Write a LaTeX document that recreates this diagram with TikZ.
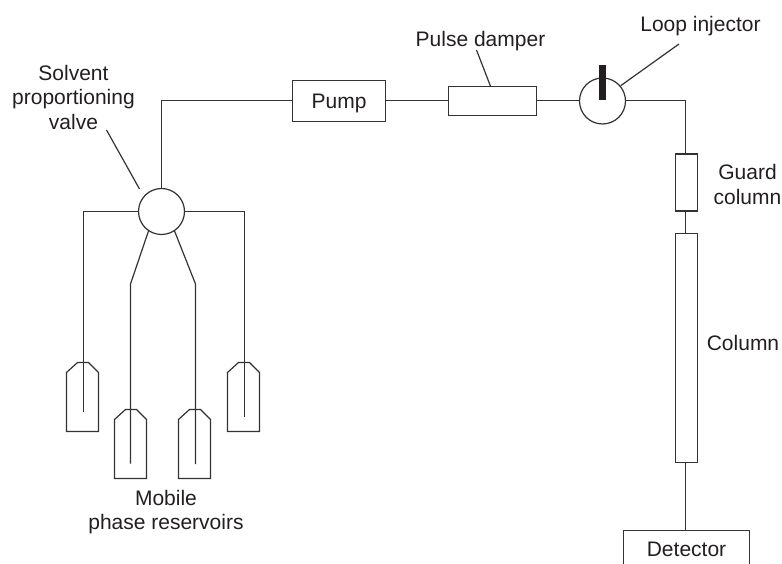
\documentclass[tikz,border=0pt]{standalone}
\usepackage{fontspec}
\setmainfont{Liberation Sans}
\usepackage{xcolor}
\usetikzlibrary{positioning}
\definecolor{hpInk}{HTML}{231F20}
\definecolor{hpLine}{HTML}{333333}
\tikzset{
  hp diagram/.style={font=\fontsize{21}{24.5}\selectfont, text=hpInk,
    line join=miter},
  hp line/.style={draw=hpLine, line width=1.2pt},
  hp box/.style={hp line, fill=white, inner sep=0pt, outer sep=0pt},
  hp valve/.style={hp box, circle, minimum size=46pt},
  hp label/.style={align=center, inner sep=0pt}
}
\begin{document}
\begin{tikzpicture}[hp diagram,x=1pt,y=-1pt]
\useasboundingbox (0,0) rectangle (782,564);
\clip (0,0) rectangle (782,564);
% components along the flow path
\node[hp valve] (valve) at (161.5,211.5) {};
\node[hp box,text depth=0pt,minimum width=92.5pt,minimum height=41pt] (pump) at (339,101) {Pump};
\node[hp box,minimum width=88pt,minimum height=29.5pt] (damper) at (492.5,101) {};
\node[hp valve] (injector) at (602.5,101) {};
\node[fill=hpInk,inner sep=0pt,minimum width=7pt,minimum height=35pt] (needle) at (602.5,82.5) {};
\node[hp box,minimum width=22pt,minimum height=57pt] (guard) at (686.5,182.5) {};
\node[hp box,minimum width=22pt,minimum height=229pt] (column) at (686.5,348) {};
\node[hp box,minimum width=126pt,minimum height=38pt] (detector) at (686.5,549.5) {Detector};
\coordinate (bend) at (161.5,100.5);
\coordinate (corner) at (685.5,100.5);
\draw[hp line] (valve) -- (bend) -- (pump.west|-bend);
\draw[hp line] (pump.east|-bend) -- (damper.west|-bend);
\draw[hp line] (damper.east|-bend) -- (injector.west|-bend);
\draw[hp line] (injector.east|-bend) -- (corner) -- (corner|-guard.north);
\draw[hp line] (corner|-guard.south) -- (corner|-column.north);
\draw[hp line] (corner|-column.south) -- (corner|-detector.north);
% reservoirs
\foreach \xb/\yb in {66.5/362.5,114.5/409.5,178.5/409.5,227.5/362.5}{
  \draw[hp line] (\xb,\yb+10) -- (\xb+11,\yb) -- (\xb+22,\yb) -- (\xb+32,\yb+10)
    -- (\xb+32,\yb+69) -- (\xb,\yb+69) -- cycle;
}
\coordinate (resa bend) at (83.5,211.5);
\coordinate (resb bend) at (130.5,284);
\coordinate (resc bend) at (195.5,284);
\coordinate (resd bend) at (244.5,211.5);
\coordinate (resa) at (83.5,412);
\coordinate (resb) at (130.5,463.5);
\coordinate (resc) at (195.5,464);
\coordinate (resd) at (244.5,417);
\draw[hp line] (valve.west) -- (resa bend) -- (resa);
\draw[hp line] (valve.236) -- (resb bend) -- (resb);
\draw[hp line] (valve.304) -- (resc bend) -- (resc);
\draw[hp line] (valve.east) -- (resd bend) -- (resd);
% labels and leaders
\node[hp label] (valve text) at (73.5,97) {Solvent\\proportioning\\valve};
\node[hp label] (damper text) at (480.5,41) {Pulse damper};
\node[hp label] (injector text) at (700.5,26) {Loop injector};
\node[hp label] (guard text) at (747.5,184.5) {Guard\\column};
\node[hp label] (column text) at (743,343) {Column};
\node[hp label] (reservoir text) at (166,512) {Mobile\\phase reservoirs};
\coordinate (valve lead) at (106.5,130);
\coordinate (damper lead) at (476.5,50);
\coordinate (injector lead) at (679,44);
\draw[hp line] (valve lead) -- (139.5,189);
\draw[hp line] (damper lead) -- (damper.north-|490.5,0);
\draw[hp line] (injector lead) -- (620.7,85.7);
\end{tikzpicture}
\end{document}
